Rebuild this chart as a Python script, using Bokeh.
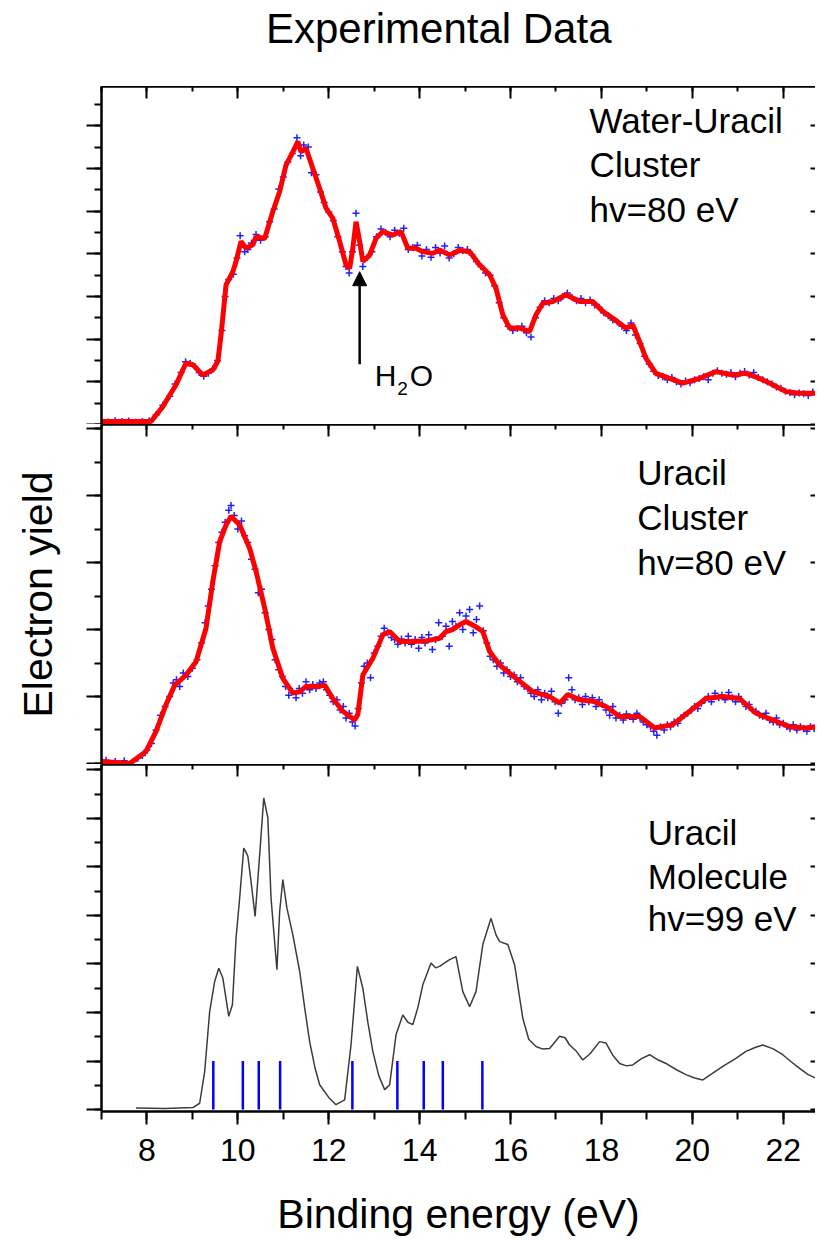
from bokeh.plotting import figure
from bokeh.layouts import column
from bokeh.models import (Range1d, LinearAxis, SingleIntervalTicker, Arrow, NormalHead,
                          ColumnDataSource, Div, CustomJSTickFormatter)
from bokeh.embed import file_html
from bokeh.resources import INLINE
from bokeh.core.properties import value

FONT = "Liberation Sans"

# ---------------- data ----------------
# Water-Uracil cluster, smoothed curve (binding energy eV, yield a.u.)
top_curve = [(7.0, 0.07), (8.09, 0.07), (8.35, 0.42), (8.64, 0.93), (8.86, 1.44), (9.01, 1.40),
             (9.23, 1.16), (9.45, 1.28), (9.56, 1.48), (9.63, 2.10), (9.74, 3.27), (9.89, 3.58),
             (9.96, 3.82), (10.07, 4.29), (10.18, 4.13), (10.33, 4.21), (10.40, 4.40), (10.59, 4.36),
             (10.77, 4.99), (10.92, 5.46), (11.06, 6.08), (11.21, 6.39), (11.32, 6.63), (11.39, 6.39),
             (11.50, 6.47), (11.65, 6.00), (11.80, 5.53), (11.94, 5.07), (12.09, 4.83), (12.24, 4.29),
             (12.38, 3.74), (12.46, 3.66), (12.53, 4.13), (12.60, 4.75), (12.68, 4.29), (12.75, 3.82),
             (12.90, 3.97), (13.04, 4.36), (13.19, 4.52), (13.41, 4.44), (13.59, 4.52), (13.74, 4.13),
             (13.92, 4.13), (14.07, 4.05), (14.29, 4.01), (14.44, 4.09), (14.66, 3.97), (14.88, 4.08),
             (15.10, 4.05), (15.32, 3.74), (15.54, 3.51), (15.68, 3.19), (15.83, 2.57), (15.98, 2.26),
             (16.20, 2.26), (16.42, 2.18), (16.56, 2.57), (16.71, 2.84), (16.93, 2.88), (17.22, 3.04),
             (17.52, 2.88), (17.81, 2.88), (18.03, 2.65), (18.25, 2.49), (18.54, 2.26), (18.69, 2.33),
             (18.84, 1.94), (18.98, 1.55), (19.20, 1.20), (19.50, 1.08), (19.79, 0.97), (20.16, 1.08),
             (20.52, 1.24), (20.89, 1.16), (21.18, 1.20), (21.48, 1.08), (21.77, 0.93), (22.06, 0.77),
             (22.36, 0.73), (22.71, 0.73)]

# Water-Uracil cluster, measured points
top_points = [(7.0, 0.08), (7.15, 0.06), (7.3, 0.09), (7.45, 0.07), (7.6, 0.08), (7.75, 0.05), (7.9, 0.07),
              (8.05, 0.09), (8.2, 0.22), (8.35, 0.45), (8.5, 0.66), (8.62, 0.95), (8.75, 1.22), (8.85, 1.47),
              (8.95, 1.43), (9.05, 1.36), (9.15, 1.22), (9.25, 1.13), (9.35, 1.20), (9.45, 1.30), (9.55, 1.50),
              (9.65, 2.2), (9.72, 3.0), (9.8, 3.40), (9.9, 3.52), (9.98, 3.90), (10.05, 4.42), (10.15, 4.05),
              (10.22, 4.10), (10.3, 4.25), (10.4, 4.45), (10.5, 4.32), (10.6, 4.40), (10.7, 4.75), (10.8, 5.05),
              (10.9, 5.52), (11.0, 5.80), (11.1, 6.15), (11.2, 6.35), (11.3, 6.72), (11.38, 6.30), (11.45, 6.55),
              (11.55, 6.50), (11.62, 5.90), (11.72, 5.85), (11.82, 5.45), (11.9, 5.20), (12.0, 4.98),
              (12.1, 4.78), (12.2, 4.40), (12.3, 4.05), (12.38, 3.70), (12.45, 3.55), (12.52, 4.05),
              (12.6, 4.95), (12.68, 4.20), (12.75, 3.70), (12.85, 3.92), (12.95, 4.05), (13.05, 4.40),
              (13.15, 4.58), (13.25, 4.50), (13.35, 4.40), (13.45, 4.55), (13.55, 4.48), (13.65, 4.60),
              (13.75, 4.10), (13.85, 4.15), (13.95, 4.20), (14.05, 3.95), (14.15, 4.10), (14.25, 3.92),
              (14.35, 4.15), (14.45, 4.02), (14.55, 4.18), (14.65, 3.90), (14.75, 4.00), (14.85, 4.15),
              (14.95, 4.08), (15.05, 4.10), (15.15, 3.98), (15.25, 3.82), (15.35, 3.70), (15.45, 3.55),
              (15.55, 3.50), (15.65, 3.25), (15.75, 2.85), (15.85, 2.50), (15.95, 2.30), (16.05, 2.20),
              (16.15, 2.25), (16.25, 2.30), (16.35, 2.15), (16.45, 2.05), (16.55, 2.50), (16.65, 2.75),
              (16.75, 2.90), (16.85, 2.85), (16.95, 2.95), (17.05, 2.90), (17.15, 3.00), (17.25, 3.08),
              (17.35, 2.98), (17.45, 2.90), (17.55, 2.95), (17.65, 2.85), (17.75, 2.92), (17.85, 2.80),
              (17.95, 2.75), (18.05, 2.62), (18.15, 2.55), (18.25, 2.45), (18.35, 2.40), (18.45, 2.30),
              (18.55, 2.20), (18.65, 2.38), (18.75, 2.10), (18.85, 1.90), (18.95, 1.60), (19.05, 1.42),
              (19.15, 1.25), (19.25, 1.15), (19.35, 1.12), (19.45, 1.05), (19.55, 1.10), (19.65, 1.00),
              (19.75, 0.95), (19.85, 1.02), (19.95, 0.98), (20.05, 1.05), (20.15, 1.08), (20.25, 1.12),
              (20.35, 1.05), (20.45, 1.20), (20.55, 1.26), (20.65, 1.20), (20.75, 1.18), (20.85, 1.22),
              (20.95, 1.12), (21.05, 1.20), (21.15, 1.24), (21.25, 1.16), (21.35, 1.22), (21.45, 1.10),
              (21.55, 1.05), (21.65, 1.00), (21.75, 0.95), (21.85, 0.88), (21.95, 0.85), (22.05, 0.78),
              (22.15, 0.75), (22.25, 0.70), (22.35, 0.74), (22.45, 0.72), (22.55, 0.68), (22.65, 0.76)]

# Uracil cluster, smoothed curve
mid_curve = [(7.0, 0.03), (7.62, 0.0), (7.98, 0.18), (8.20, 0.48), (8.42, 0.88), (8.61, 1.17), (8.86, 1.32),
             (9.08, 1.52), (9.30, 2.02), (9.45, 2.72), (9.60, 3.31), (9.74, 3.56), (9.85, 3.69), (10.04, 3.56),
             (10.26, 3.21), (10.40, 2.87), (10.59, 2.32), (10.77, 1.72), (10.99, 1.27), (11.21, 1.05),
             (11.36, 1.07), (11.50, 1.15), (11.80, 1.15), (11.91, 1.17), (12.09, 0.97), (12.31, 0.78),
             (12.57, 0.65), (12.64, 0.73), (12.75, 1.32), (12.97, 1.57), (13.19, 1.92), (13.34, 1.97),
             (13.56, 1.82), (13.85, 1.82), (14.14, 1.83), (14.44, 1.87), (14.58, 1.97), (14.73, 2.0),
             (14.88, 2.07), (15.02, 2.12), (15.24, 2.04), (15.39, 1.97), (15.54, 1.67), (15.76, 1.47),
             (16.12, 1.27), (16.49, 1.07), (16.86, 1.0), (17.08, 0.90), (17.26, 1.03), (17.52, 0.95),
             (17.81, 0.93), (18.10, 0.85), (18.40, 0.70), (18.84, 0.70), (18.98, 0.63), (19.17, 0.53),
             (19.57, 0.58), (19.94, 0.78), (20.30, 0.97), (20.67, 1.0), (21.04, 0.97), (21.40, 0.75),
             (21.77, 0.65), (22.14, 0.55), (22.50, 0.53), (22.71, 0.55)]

# Uracil cluster, measured points
mid_points = [(7.0, 0.02), (7.1, 0.05), (7.2, -0.01), (7.3, 0.03), (7.4, 0.0), (7.5, 0.04), (7.6, -0.02),
              (7.7, 0.03), (7.8, 0.08), (7.9, 0.12), (8.0, 0.20), (8.1, 0.30), (8.2, 0.50), (8.3, 0.72),
              (8.4, 0.85), (8.5, 1.00), (8.58, 1.20), (8.65, 1.25), (8.72, 1.15), (8.8, 1.35), (8.9, 1.30),
              (9.0, 1.42), (9.1, 1.55), (9.2, 1.80), (9.28, 2.10), (9.35, 2.35), (9.42, 2.60), (9.5, 2.95),
              (9.58, 3.30), (9.65, 3.45), (9.72, 3.60), (9.8, 3.78), (9.85, 3.85), (9.92, 3.70), (10.0, 3.50),
              (10.08, 3.62), (10.15, 3.40), (10.22, 3.30), (10.3, 3.05), (10.38, 2.90), (10.45, 2.55),
              (10.52, 2.60), (10.6, 2.25), (10.68, 2.00), (10.75, 1.85), (10.82, 1.55), (10.9, 1.40),
              (10.98, 1.30), (11.05, 1.15), (11.12, 1.02), (11.2, 1.08), (11.28, 0.98), (11.35, 1.12),
              (11.42, 1.05), (11.5, 1.22), (11.58, 1.10), (11.65, 1.18), (11.72, 1.12), (11.8, 1.20),
              (11.88, 1.22), (11.95, 1.10), (12.02, 1.02), (12.1, 0.92), (12.18, 0.95), (12.25, 0.80),
              (12.32, 0.85), (12.38, 0.68), (12.45, 0.75), (12.52, 0.62), (12.58, 0.56), (12.65, 0.82),
              (12.72, 1.20), (12.78, 1.45), (12.85, 1.50), (12.92, 1.28), (13.0, 1.65), (13.08, 1.75),
              (13.15, 1.90), (13.22, 2.02), (13.3, 1.95), (13.38, 1.88), (13.45, 1.85), (13.52, 1.78),
              (13.6, 1.86), (13.68, 1.80), (13.75, 1.90), (13.82, 1.78), (13.9, 1.85), (13.98, 1.72),
              (14.05, 1.88), (14.12, 1.80), (14.2, 1.92), (14.28, 1.70), (14.35, 1.85), (14.42, 2.10),
              (14.5, 1.90), (14.58, 2.05), (14.65, 1.75), (14.72, 2.12), (14.8, 2.05), (14.88, 2.25),
              (14.95, 2.00), (15.02, 2.20), (15.1, 2.30), (15.18, 1.95), (15.25, 2.15), (15.32, 2.35),
              (15.4, 1.98), (15.48, 1.80), (15.55, 1.60), (15.62, 1.55), (15.7, 1.45), (15.78, 1.50),
              (15.85, 1.35), (15.92, 1.40), (16.0, 1.30), (16.08, 1.32), (16.15, 1.22), (16.22, 1.28),
              (16.3, 1.15), (16.38, 1.12), (16.45, 1.05), (16.52, 1.00), (16.6, 1.10), (16.68, 0.95),
              (16.75, 1.05), (16.82, 0.98), (16.9, 1.08), (16.98, 0.92), (17.05, 0.75), (17.12, 0.90),
              (17.2, 0.95), (17.28, 1.28), (17.35, 1.10), (17.42, 0.95), (17.5, 0.98), (17.58, 0.88),
              (17.65, 1.00), (17.72, 0.92), (17.8, 0.98), (17.88, 0.85), (17.95, 0.95), (18.02, 0.88),
              (18.1, 0.80), (18.18, 0.72), (18.25, 0.85), (18.32, 0.68), (18.4, 0.72), (18.48, 0.65),
              (18.55, 0.74), (18.62, 0.70), (18.7, 0.66), (18.78, 0.75), (18.85, 0.68), (18.92, 0.62),
              (19.0, 0.58), (19.08, 0.55), (19.15, 0.48), (19.22, 0.42), (19.3, 0.55), (19.38, 0.50),
              (19.45, 0.58), (19.52, 0.55), (19.6, 0.62), (19.68, 0.60), (19.75, 0.68), (19.82, 0.72),
              (19.9, 0.75), (19.98, 0.80), (20.05, 0.85), (20.12, 0.82), (20.2, 0.90), (20.28, 0.95),
              (20.35, 1.00), (20.42, 0.92), (20.5, 1.05), (20.58, 0.98), (20.65, 1.02), (20.72, 0.95),
              (20.8, 1.06), (20.88, 0.98), (20.95, 0.92), (21.02, 1.00), (21.1, 0.92), (21.18, 0.85),
              (21.25, 0.88), (21.32, 0.80), (21.4, 0.78), (21.48, 0.72), (21.55, 0.70), (21.62, 0.75),
              (21.7, 0.65), (21.78, 0.62), (21.85, 0.68), (21.92, 0.58), (22.0, 0.60), (22.08, 0.55),
              (22.15, 0.52), (22.22, 0.58), (22.3, 0.50), (22.38, 0.55), (22.45, 0.52), (22.52, 0.48),
              (22.6, 0.55), (22.68, 0.52)]

# Uracil molecule spectrum
mol_curve = [(7.76, 0.03), (8.40, 0.02), (9.01, 0.04), (9.16, 0.13), (9.27, 0.78), (9.38, 2.02), (9.49, 2.64),
             (9.58, 2.91), (9.67, 2.71), (9.80, 1.92), (9.88, 2.16), (9.96, 3.53), (10.04, 4.36), (10.13, 5.39),
             (10.18, 5.30), (10.22, 5.22), (10.29, 4.70), (10.38, 3.98), (10.48, 5.25), (10.57, 6.42),
             (10.66, 6.01), (10.73, 4.36), (10.86, 2.88), (10.92, 4.08), (10.99, 4.74), (11.08, 4.15),
             (11.21, 3.60), (11.36, 2.85), (11.47, 2.10), (11.58, 1.40), (11.70, 0.85), (11.80, 0.51),
             (12.00, 0.25), (12.16, 0.10), (12.35, 0.20), (12.49, 1.33), (12.63, 2.95), (12.75, 2.50),
             (12.86, 1.80), (12.97, 1.20), (13.10, 0.70), (13.23, 0.41), (13.34, 0.51), (13.48, 1.54),
             (13.63, 1.95), (13.74, 1.80), (13.85, 1.75), (13.96, 2.10), (14.07, 2.57), (14.25, 3.02),
             (14.35, 2.92), (14.44, 2.95), (14.55, 3.02), (14.66, 3.09), (14.80, 3.15), (14.95, 2.43),
             (15.10, 2.12), (15.24, 2.43), (15.39, 3.40), (15.57, 3.94), (15.68, 3.60), (15.76, 3.46),
             (15.94, 3.40), (16.09, 2.98), (16.27, 1.88), (16.40, 1.45), (16.56, 1.30), (16.70, 1.25),
             (16.86, 1.26), (17.08, 1.51), (17.20, 1.48), (17.30, 1.33), (17.45, 1.20), (17.59, 1.02),
             (17.75, 1.15), (17.96, 1.40), (18.10, 1.37), (18.25, 1.12), (18.40, 0.95), (18.55, 0.90),
             (18.69, 0.92), (18.88, 1.05), (19.06, 1.13), (19.25, 1.02), (19.42, 0.95), (19.65, 0.82),
             (19.86, 0.72), (20.05, 0.65), (20.23, 0.61), (20.45, 0.75), (20.67, 0.89), (20.95, 1.05),
             (21.18, 1.20), (21.38, 1.28), (21.55, 1.33), (21.78, 1.25), (21.99, 1.13), (22.18, 0.98),
             (22.36, 0.85), (22.55, 0.72), (22.71, 0.65)]

# calculated ionisation energies (stick positions) and stick height
stick_x = [9.46, 10.11, 10.46, 10.93, 12.52, 13.51, 14.09, 14.51, 15.38]
stick_h = [1.0, 1.0, 1.0, 1.0, 1.0, 1.0, 1.0, 1.0, 1.0]

panel_labels = [["Water-Uracil", "Cluster", "hv=80 eV"],
                ["Uracil", "Cluster", "hv=80 eV"],
                ["Uracil", "Molecule", "hv=99 eV"]]

X_MIN, X_MAX = 7.0, 22.71
FRAME_W = 714
LEFT_B = 101

xr = Range1d(X_MIN, X_MAX)
empty_fmt = CustomJSTickFormatter(code="return ''")


def src(pairs):
    return ColumnDataSource(dict(x=[a for a, b in pairs], y=[b for a, b in pairs]))


def quiet(ax):
    ax.formatter = empty_fmt
    ax.major_label_text_font_size = "0px"
    ax.major_label_standoff = 0
    ax.axis_label_standoff = 0


def make_panel(frame_h, y0, y1, bottom_b=0, x_labels=False, y_label=None):
    p = figure(frame_width=FRAME_W, frame_height=frame_h, x_range=xr, y_range=Range1d(y0, y1),
               output_backend="svg", toolbar_location=None,
               x_axis_location=None, y_axis_location=None,
               min_border_left=LEFT_B, min_border_right=0, min_border_top=0,
               min_border_bottom=bottom_b)
    p.grid.visible = False
    p.outline_line_color = None
    p.border_fill_color = "white"
    p.background_fill_color = "white"

    # left axis, outward ticks
    la = LinearAxis(ticker=SingleIntervalTicker(interval=1, num_minor_ticks=2))
    quiet(la)
    la.axis_line_width = 2.5
    la.major_tick_line_width = 2
    la.minor_tick_line_width = 2
    la.major_tick_in, la.major_tick_out = 0, 15
    la.minor_tick_in, la.minor_tick_out = 0, 7
    if y_label:
        la.axis_label = y_label
        la.axis_label_text_font = FONT
        la.axis_label_text_font_size = "41px"
        la.axis_label_text_font_style = "normal"
        la.axis_label_text_color = "black"
        la.axis_label_standoff = 26
    p.add_layout(la, "left")

    # top axis, inward ticks
    ta = LinearAxis(ticker=SingleIntervalTicker(interval=2, num_minor_ticks=2))
    quiet(ta)
    ta.axis_line_width = 2.5
    ta.major_tick_line_width = 2
    ta.minor_tick_line_width = 2
    ta.major_tick_in, ta.major_tick_out = 12, 0
    ta.minor_tick_in, ta.minor_tick_out = 5, 0
    p.add_layout(ta, "above")

    # right axis, small inward ticks
    ra = LinearAxis(ticker=SingleIntervalTicker(interval=1, num_minor_ticks=1))
    quiet(ra)
    ra.axis_line_color = None
    ra.major_tick_line_width = 2
    ra.major_tick_in, ra.major_tick_out = 5, 0
    ra.minor_tick_in, ra.minor_tick_out = 0, 0
    p.add_layout(ra, "right")

    if x_labels:
        ba = LinearAxis(ticker=SingleIntervalTicker(interval=2, num_minor_ticks=2),
                        axis_label="Binding energy (eV)")
        ba.axis_line_width = 2.5
        ba.major_tick_line_width = 2
        ba.minor_tick_line_width = 2
        ba.major_tick_in, ba.major_tick_out = 0, 13
        ba.minor_tick_in, ba.minor_tick_out = 0, 8
        ba.major_label_text_font = FONT
        ba.major_label_text_font_size = "32px"
        ba.major_label_text_color = "black"
        ba.major_label_standoff = 14
        ba.axis_label_text_font = FONT
        ba.axis_label_text_font_size = "41px"
        ba.axis_label_text_font_style = "normal"
        ba.axis_label_text_color = "black"
        ba.axis_label_standoff = 27
        p.add_layout(ba, "below")
    return p


def panel_text(p, x, ys, lines):
    p.text(x=[x] * len(lines), y=ys, text=lines, text_font=value(FONT), text_font_size="35px",
           text_color="black", text_align="left", text_baseline="alphabetic")


# ---------- top panel: water-uracil cluster ----------
p1 = make_panel(338, 0.0, 7.92)
p1.scatter("x", "y", source=src(top_points), marker="cross", size=7, line_color="#1f1fff", line_width=1.5)
p1.line("x", "y", source=src(top_curve), line_color="#ff0000", line_width=5)
panel_text(p1, 17.74, [7.12, 6.09, 5.04], panel_labels[0])
p1.add_layout(Arrow(end=NormalHead(size=14, fill_color="black", line_color="black", line_width=1),
                    x_start=12.68, y_start=1.41, x_end=12.68, y_end=3.58,
                    line_color="black", line_width=2.5))
p1.text(x=[13.01, 13.78], y=[1.15, 1.15], text=["H", "O"], text_font=value(FONT), text_font_size="30px",
        text_color="black", text_baseline="alphabetic")
p1.text(x=[13.51], y=[0.84], text=["2"], text_font=value(FONT), text_font_size="19px",
        text_color="black", text_baseline="alphabetic")

# ---------- middle panel: uracil cluster ----------
p2 = make_panel(340, -0.015, 5.06, y_label="Electron yield")
p2.scatter("x", "y", source=src(mid_points), marker="cross", size=7, line_color="#1f1fff", line_width=1.5)
p2.line("x", "y", source=src(mid_curve), line_color="#ff0000", line_width=5)
panel_text(p2, 18.79, [4.34, 3.67, 3.00], panel_labels[1])

# ---------- bottom panel: uracil molecule ----------
p3 = make_panel(347, -0.04, 7.11, x_labels=True)
p3.line("x", "y", source=src(mol_curve), line_color="#3c3c3c", line_width=1.5)
p3.segment(x0=stick_x, y0=[0.0] * len(stick_x), x1=stick_x, y1=stick_h, line_color="#0000ff", line_width=2.5)
panel_text(p3, 19.02, [5.71, 4.80, 3.93], panel_labels[2])

title = Div(text='<div style="margin-left:261px; line-height:48px; font-size:42px; '
                 'font-family:\'Liberation Sans\'; color:black; white-space:nowrap;">Experimental Data</div>',
            width=LEFT_B + FRAME_W, height=76)

layout = column(title, p1, p2, p3, spacing=0)
open("out.html", "w").write(file_html(layout, INLINE))
